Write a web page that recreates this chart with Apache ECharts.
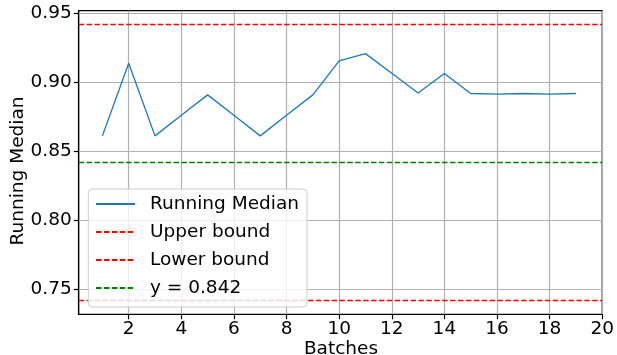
<!DOCTYPE html>
<html>
<head>
<meta charset="utf-8">
<script src="https://cdn.jsdelivr.net/npm/echarts@6/dist/echarts.min.js"></script>
<style>
html,body{margin:0;padding:0;background:#fff;}
#c{width:617px;height:355px;}
</style>
</head>
<body>
<div id="c"></div>
<script>
// ---- data ----
const batches = [1,2,3,4,5,6,7,8,9,10,11,12,13,14,15,16,17,18,19];
const runningMedian = [0.8613,0.9139,0.8613,0.8763,0.891,0.8763,0.8613,0.8762,0.891,0.9156,0.9209,0.9066,0.8923,0.9065,0.892,0.8915,0.892,0.8915,0.892];
const upperBound = 0.942;
const lowerBound = 0.742;
const threshold = 0.842;
const xTicks = [2,4,6,8,10,12,14,16,18,20];
const yTicks = [0.75,0.80,0.85,0.90,0.95];
const seriesNames = ['Running Median','Upper bound','Lower bound','y = 0.842'];

// axis limits
const xMin = 0.1, xMax = 20;
const yMin = 0.732, yMax = 0.952;

const FONT = 'DejaVu Sans';
const FS = 18.5;

function hline(v){ return [[xMin, v],[xMax, v]]; }

const chart = echarts.init(document.getElementById('c'), null, {renderer:'canvas'});
const dash = [5.5, 2.4];
chart.setOption({
  animation: false,
  backgroundColor: '#fff',
  grid: {left: 78.7, right: 14.3, top: 10.7, bottom: 40.7, show: true, borderColor: '#000', borderWidth: 1.2, backgroundColor: 'transparent'},
  xAxis: {
    type: 'value', min: xMin, max: xMax, splitNumber: 10,
    axisLine: {show: true, onZero: false, lineStyle: {color: '#000', width: 1.2}},
    axisTick: {show: true, length: 5, customValues: xTicks, lineStyle: {color: '#000', width: 1.2}},
    axisLabel: {customValues: xTicks, margin: 5, color: '#000', fontFamily: FONT, fontSize: FS},
    splitLine: {show: true, lineStyle: {color: '#b0b0b0', width: 1.2}}
  },
  yAxis: {
    type: 'value', min: yMin, max: yMax, splitNumber: 4,
    axisLine: {show: true, onZero: false, lineStyle: {color: '#000', width: 1.2}},
    axisTick: {show: true, length: 5, customValues: yTicks, lineStyle: {color: '#000', width: 1.2}},
    axisLabel: {customValues: yTicks, margin: 7, color: '#000', fontFamily: FONT, fontSize: FS,
      formatter: v => v.toFixed(2)},
    splitLine: {show: true, lineStyle: {color: '#b0b0b0', width: 1.2}}
  },
  legend: {
    orient: 'vertical', left: 88.3, top: 189,
    data: seriesNames,
    itemWidth: 39, itemHeight: 14, itemGap: 8,
    padding: [5, 8, 9, 6.7],
    backgroundColor: 'rgba(255,255,255,0.8)',
    borderColor: '#cccccc', borderWidth: 1, borderRadius: 4,
    itemStyle: {opacity: 0},
    textStyle: {fontFamily: FONT, fontSize: FS, color: '#000', lineHeight: 20, padding: [0,0,0,10]}
  },
  graphic: [
    {type: 'text', x: 341, y: 348.7, style: {text: 'Batches', font: FS + 'px "' + FONT + '"', fill: '#000', align: 'center', verticalAlign: 'middle'}},
    {type: 'text', x: 18, y: 171, rotation: Math.PI/2, style: {text: 'Running Median', font: FS + 'px "' + FONT + '"', fill: '#000', align: 'center', verticalAlign: 'middle'}}
  ],
  series: [
    {name: seriesNames[0], type: 'line', data: batches.map((b,i)=>[b, runningMedian[i]]),
      showSymbol: false, symbol: 'none', color: '#1f77b4', lineStyle: {color: '#1f77b4', width: 1.3}, z: 5},
    {name: seriesNames[1], type: 'line', data: hline(upperBound), showSymbol: false, symbol: 'none',
      color: '#ff0000', lineStyle: {color: '#ff0000', width: 1.3, type: dash}},
    {name: seriesNames[2], type: 'line', data: hline(lowerBound), showSymbol: false, symbol: 'none',
      color: '#ff0000', lineStyle: {color: '#ff0000', width: 1.3, type: dash}},
    {name: seriesNames[3], type: 'line', data: hline(threshold), showSymbol: false, symbol: 'none',
      color: '#008000', lineStyle: {color: '#008000', width: 1.3, type: dash}}
  ]
});
</script>
</body>
</html>
